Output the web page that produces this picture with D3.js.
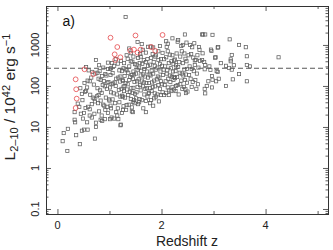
<!DOCTYPE html>
<html>
<head>
<meta charset="utf-8">
<script src="https://cdn.jsdelivr.net/npm/d3@7"></script>
<style>
  body { margin: 0; background: #fff; }
  svg { display: block; font-family: "Liberation Sans", Arial, Helvetica, sans-serif; }
</style>
</head>
<body>
<svg id="chart" width="333" height="250"></svg>
<script>
// 灰色方块: [redshift z, L(2-10keV) / 1e42]
const squares = [
  // z < 0.5
  [0.10,4.5],[0.19,2.6],[0.12,7.1],[0.20,9.0],[0.43,3.8],[0.36,6.3],[0.33,23],[0.33,15],[0.34,13],
  [0.45,21],[0.47,8.1],[0.42,31],[0.48,45],[0.39,37],[0.49,16],[0.47,64],[0.44,88],[0.51,22],
  // 0.5 - 1.0
  [0.51,8.6],[0.58,8.6],[0.62,19],[0.57,13],[0.66,17],[0.72,5.2],[0.74,12.7],[0.74,10],[0.83,15],
  [0.91,15.5],[0.71,21],[0.54,29],[0.66,36],[0.59,31],[0.72,42],[0.62,27],[0.68,52],[0.53,72],
  [0.71,49],[0.57,92],[0.63,61],[0.55,76],[0.70,108],[0.58,135],[0.52,118],[0.65,160],[0.73,200],
  [0.60,240],[0.55,290],[0.67,220],[0.62,130],[0.74,430],
  [0.86,14],[0.80,24],[0.85,19],[0.92,26],[0.97,22],[0.90,33],[0.78,38],[0.96,31],[0.83,44],
  [0.88,35],[0.93,52],[0.79,60],[0.99,47],[0.85,68],[0.76,56],[0.95,85],[0.82,78],[0.91,98],
  [0.77,88],[0.87,105],[0.96,120],[0.83,140],[0.98,125],[0.79,150],[0.89,132],[0.94,180],
  [0.77,210],[0.86,175],[0.81,230],[0.92,195],[0.97,260],[0.80,320],[0.88,280],[0.97,370],
  // 1.0 - 1.25
  [1.01,15.5],[1.04,17],[1.09,16],[1.15,19],[1.17,15.5],[1.22,11.4],[1.21,11],[1.03,28.5],[1.16,28.5],
  [1.26,26],[1.13,23],[1.02,33],[1.24,22],[1.19,40],[1.06,47],[1.11,38],[1.00,44],[1.21,55],
  [1.14,62],[1.03,70],[1.24,58],[1.08,66],[1.18,80],[1.01,92],[1.23,85],[1.12,100],[1.07,115],
  [1.20,128],[1.04,110],[1.25,140],[1.10,122],[1.17,160],[1.02,185],[1.21,170],[1.06,205],
  [1.13,150],[1.19,240],[1.03,270],[1.24,230],[1.09,310],[1.16,350],[1.22,410],[1.05,360],
  [1.12,450],[1.01,260],
  // 1.25 - 1.5
  [1.31,4800],[1.32,26],[1.43,24],[1.45,23],[1.43,30],[1.45,41],[1.37,35],[1.27,32],[1.48,38],
  [1.33,34],[1.41,48],[1.26,55],[1.47,45],[1.30,52],[1.36,60],[1.44,68],[1.28,75],[1.49,64],
  [1.34,82],[1.39,72],[1.46,90],[1.29,100],[1.42,88],[1.35,110],[1.27,96],[1.48,125],[1.38,140],
  [1.31,118],[1.45,150],[1.26,132],[1.40,165],[1.47,190],[1.29,175],[1.36,210],[1.43,185],
  [1.33,240],[1.27,270],[1.46,225],[1.38,300],[1.31,255],[1.49,340],[1.41,400],[1.28,360],
  [1.35,460],[1.44,390],[1.33,560],[1.41,630],[1.46,520],[1.54,1180],[1.38,820],
  // 1.5 - 1.75
  [1.55,36],[1.70,23],[1.65,28.5],[1.70,43],[1.57,40],[1.62,45],[1.51,50],[1.73,55],[1.58,48],
  [1.67,62],[1.52,70],[1.75,65],[1.60,78],[1.69,85],[1.54,95],[1.72,88],[1.59,105],[1.64,98],
  [1.71,118],[1.53,130],[1.66,122],[1.56,145],[1.62,135],[1.74,160],[1.60,180],[1.68,170],
  [1.51,200],[1.65,190],[1.72,225],[1.54,250],[1.61,235],[1.57,280],[1.67,260],[1.74,310],
  [1.63,345],[1.52,330],[1.70,380],[1.58,360],[1.66,430],[1.55,480],[1.73,450],[1.60,520],
  [1.59,600],[1.70,650],[1.64,760],[1.74,900],[1.62,1050],
  // 1.75 - 2.0
  [1.80,45],[1.84,33],[1.86,50],[1.78,38],[1.95,42],[1.89,55],[1.99,60],[1.76,68],[1.92,62],
  [1.81,75],[1.87,66],[1.97,85],[1.83,95],[1.78,88],[1.94,105],[1.88,98],[1.76,118],[1.99,130],
  [1.82,122],[1.91,145],[1.86,135],[1.96,160],[1.79,180],[1.93,170],[1.84,200],[1.77,190],
  [1.98,225],[1.89,250],[1.81,235],[1.92,280],[1.87,310],[1.97,345],[1.78,330],[1.85,380],
  [1.94,430],[1.80,480],[1.99,450],[1.88,520],[1.83,600],[1.89,560],[1.94,700],[1.79,910],
  [1.84,870],[1.97,940],
  // 2.0 - 2.25
  [2.05,60],[2.14,60],[2.19,75],[2.02,70],[2.24,82],[2.09,68],[2.15,78],[2.21,95],[2.06,105],
  [2.12,92],[2.01,110],[2.17,125],[2.23,140],[2.08,130],[2.13,150],[2.20,170],[2.03,185],
  [2.24,165],[2.10,200],[2.16,180],[2.22,225],[2.04,250],[2.11,240],[2.18,270],[2.01,310],
  [2.23,340],[2.07,300],[2.14,360],[2.19,400],[2.05,450],[2.24,420],[2.09,500],[2.16,580],
  [2.02,640],[2.21,560],[2.12,700],[2.10,900],[2.09,1230],[2.12,1070],[2.21,1450],
  // 2.25 - 2.5
  [2.32,1320],[2.31,1200],[2.41,1000],[2.45,1800],[2.38,940],[2.48,1140],[2.44,620],[2.36,520],
  [2.27,75],[2.33,62],[2.40,85],[2.46,83],[2.47,67],[2.43,95],[2.36,110],[2.28,100],[2.49,120],
  [2.31,105],[2.45,140],[2.26,155],[2.38,135],[2.30,165],[2.47,190],[2.35,210],[2.42,180],
  [2.27,230],[2.39,200],[2.49,260],[2.32,290],[2.44,250],[2.28,320],[2.41,360],[2.48,400],
  [2.34,380],[2.26,440],[2.46,460],[2.39,700],[2.29,620],
  // 2.5 - 2.75
  [2.53,185],[2.50,73],[2.63,1100],[2.73,760],[2.72,890],[2.66,430],[2.64,420],[2.74,410],[2.64,325],
  [2.55,1000],[2.59,880],[2.52,560],[2.57,600],[2.61,490],[2.69,560],[2.54,300],[2.58,260],
  [2.62,230],[2.68,200],[2.71,280],[2.56,150],[2.60,125],[2.65,140],[2.70,110],[2.58,95],[2.67,85],
  // 2.75 - 3.0
  [2.78,1800],[2.80,1800],[2.84,1800],[2.98,1760],[2.95,770],[2.96,715],[2.79,625],[2.78,430],
  [2.82,385],[2.84,325],[2.92,300],[2.83,255],[2.94,245],[2.97,175],[2.98,142],[2.87,100],
  [2.97,92],[2.83,85],[2.84,66],[2.90,130],
  // 3.0 - 3.5
  [3.09,880],[3.04,500],[3.14,360],[3.06,230],[3.10,150],[3.08,860],[3.03,490],[3.08,220],
  [3.05,130],[3.24,100],[3.31,1370],[3.35,570],[3.33,445],[3.33,400],[3.39,320],[3.30,275],
  [3.35,250],[3.49,195],[3.37,145],[3.24,310],[3.49,1000],
  // 3.5 -
  [3.62,880],[3.64,530],[3.64,325],[3.70,300],[3.64,130],[4.25,500]
];

// 红色圆圈: [redshift z, L / 1e42]
const circles = [
  [1.02,1500],[0.52,255],[0.69,195],[0.35,145],[0.36,83],[0.37,49],[0.35,29],[1.15,890],
  [1.10,590],[1.11,430],[1.21,500],[1.40,725],[1.47,770],[1.54,650],[1.60,770],[1.50,1700],
  [1.80,890],[1.88,715],[2.02,1750]
];

const dashLevel = 270;               // 水平虚线
const xLabelTicks = [0, 2, 4];
const xSmallTicks = [1, 3, 5];
const yLabelTicks = [0.1, 1, 10, 100, 1000];
const yLabelText = ['0.1', '1', '10', '100', '1000'];
const panelTag = 'a)';

const frameColor = '#333',
    squareColor = '#5f5f5f',
    circleColor = '#e5474b';

let svg = d3.select('#chart');
let plot = {left: 46, top: 6, right: 328, bottom: 214};

// 比例尺
let x = d3.scaleLinear().domain([-0.22, 5.2]).range([plot.left, plot.right]);
let y = d3.scaleLog().domain([0.0755, 8900]).range([plot.bottom, plot.top]);

// 对数轴的小刻度
let yMinor = [];
[0.01, 0.1, 1, 10, 100, 1000].forEach(function (d) {
    for (let k = 2; k <= 9; k++) {
        let v = d * k;
        if (v >= y.domain()[0] && v <= y.domain()[1]) yMinor.push(v);
    }
});

function addAxis(gen, tx, ty) {
    svg.append('g')
        .attr('transform', 'translate(' + tx + ',' + ty + ')')
        .call(gen.tickFormat(''))
        .call(g => g.select('.domain').remove())
        .call(g => g.selectAll('line').attr('stroke', frameColor).attr('stroke-width', 0.8));
}

// 四边刻度 朝内
addAxis(d3.axisBottom(x).tickValues(xLabelTicks).tickSize(-5), 0, plot.bottom);
addAxis(d3.axisBottom(x).tickValues(xSmallTicks).tickSize(-3), 0, plot.bottom);
addAxis(d3.axisTop(x).tickValues(xLabelTicks).tickSize(-5), 0, plot.top);
addAxis(d3.axisTop(x).tickValues(xSmallTicks).tickSize(-3), 0, plot.top);
addAxis(d3.axisLeft(y).tickValues(yLabelTicks).tickSize(-5), plot.left, 0);
addAxis(d3.axisLeft(y).tickValues(yMinor).tickSize(-2.5), plot.left, 0);
addAxis(d3.axisRight(y).tickValues(yLabelTicks).tickSize(-5), plot.right, 0);
addAxis(d3.axisRight(y).tickValues(yMinor).tickSize(-2.5), plot.right, 0);

// 虚线
svg.append('line')
    .attr('x1', plot.left).attr('x2', plot.right)
    .attr('y1', y(dashLevel)).attr('y2', y(dashLevel))
    .attr('stroke', '#444')
    .attr('stroke-width', 0.9)
    .attr('stroke-dasharray', '5,3');

// 画点
let s = 3.2;
svg.append('g').selectAll('rect')
    .data(squares)
    .enter()
    .append('rect')
    .attr('x', d => x(d[0]) - s / 2)
    .attr('y', d => y(d[1]) - s / 2)
    .attr('width', s)
    .attr('height', s)
    .attr('fill', 'none')
    .attr('stroke', squareColor)
    .attr('stroke-width', 0.75);

svg.append('g').selectAll('circle')
    .data(circles)
    .enter()
    .append('circle')
    .attr('cx', d => x(d[0]))
    .attr('cy', d => y(d[1]))
    .attr('r', 2.4)
    .attr('fill', 'none')
    .attr('stroke', circleColor)
    .attr('stroke-width', 0.8);

// 边框
svg.append('rect')
    .attr('x', plot.left + 0.5).attr('y', plot.top + 0.5)
    .attr('width', plot.right - plot.left).attr('height', plot.bottom - plot.top)
    .attr('fill', 'none')
    .attr('stroke', frameColor)
    .attr('stroke-width', 1);

// 刻度文字
svg.append('g').selectAll('text')
    .data(xLabelTicks)
    .enter()
    .append('text')
    .attr('x', d => x(d))
    .attr('y', 229)
    .attr('text-anchor', 'middle')
    .attr('font-size', 11)
    .attr('fill', '#222')
    .text(d => d);

svg.append('g').selectAll('text')
    .data(yLabelTicks)
    .enter()
    .append('text')
    .attr('transform', d => 'translate(39.3,' + y(d) + ') rotate(-90)')
    .attr('text-anchor', 'middle')
    .attr('font-size', 11)
    .attr('fill', '#222')
    .text((d, i) => yLabelText[i]);

// 坐标轴标题
svg.append('text')
    .attr('x', (plot.left + plot.right) / 2)
    .attr('y', 246)
    .attr('text-anchor', 'middle')
    .attr('font-size', 14)
    .attr('fill', '#222')
    .text('Redshift z');

let yt = svg.append('text')
    .attr('transform', 'translate(15,97) rotate(-90)')
    .attr('text-anchor', 'middle')
    .attr('font-size', 15.5)
    .attr('fill', '#222');
yt.append('tspan').text('L');
yt.append('tspan').attr('font-size', 11).attr('dy', 3).text('2\u201310');
yt.append('tspan').attr('dy', -3).text(' / 10');
yt.append('tspan').attr('font-size', 11).attr('dy', -5.5).text('42');
yt.append('tspan').attr('dy', 5.5).text(' erg s');
yt.append('tspan').attr('font-size', 11).attr('dy', -5.5).text('\u22121');

svg.append('text')
    .attr('x', 62.5)
    .attr('y', 26)
    .attr('font-size', 14)
    .attr('fill', '#111')
    .text(panelTag);
</script>
</body>
</html>
